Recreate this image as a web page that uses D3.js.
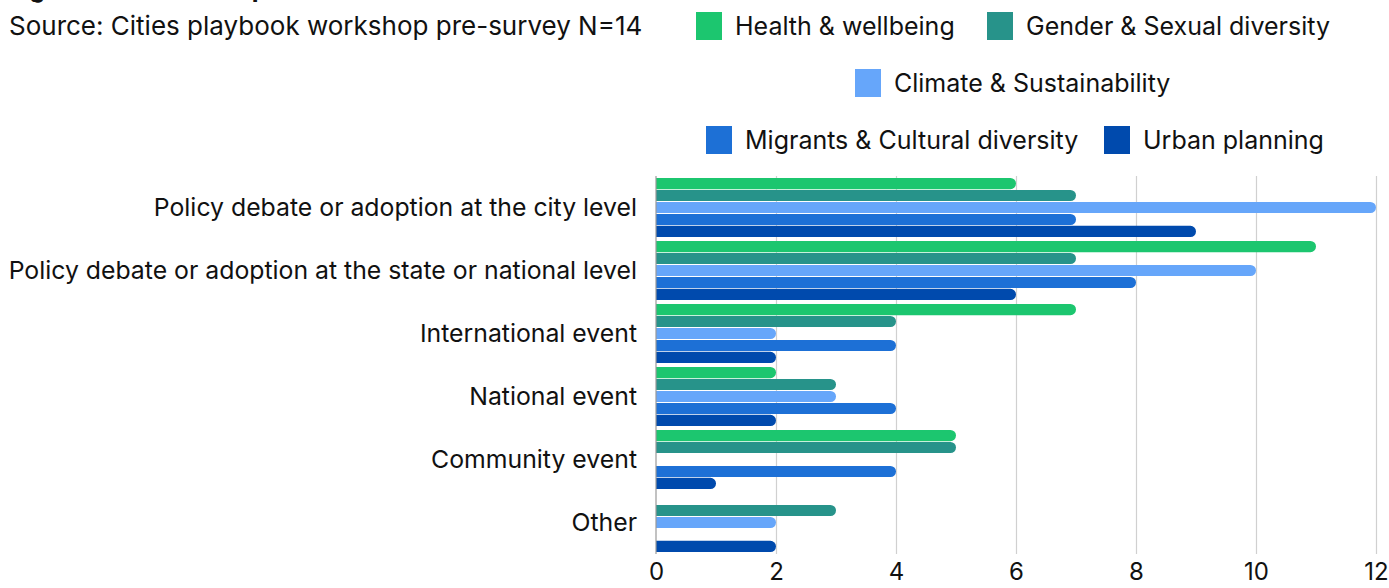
<!DOCTYPE html>
<html><head><meta charset="utf-8">
<script src="https://cdn.jsdelivr.net/npm/d3@7"></script>
<style>body{margin:0;background:#fff}svg{display:block}text{font-family:Inter,"Noto Sans",sans-serif;fill:#111}</style>
</head><body><svg id="c" width="1389" height="588"></svg>
<script>
const categories = ["Policy debate or adoption at the city level","Policy debate or adoption at the state or national level","International event","National event","Community event","Other"];
const seriesNames = ["Health & wellbeing","Gender & Sexual diversity","Climate & Sustainability","Migrants & Cultural diversity","Urban planning"];
const health = [6,11,7,2,5,0];
const gender = [7,7,4,3,5,3];
const climate = [12,10,2,3,0,2];
const migrants = [7,8,4,4,4,0];
const urban = [9,6,2,2,1,2];
const colors = ["#1cc66f","#27938a","#66a6fa","#1d70d6","#004aad"];
const xTicks = [0,2,4,6,8,10,12];
const title = "Figure 4: Desired impact";
const subtitle = "Source: Cities playbook workshop pre-survey N=14";

const values = [health, gender, climate, migrants, urban];
const svg = d3.select("#c");
const x = d3.scaleLinear().domain([0,12]).range([656,1376]);
const y = d3.scaleBand().domain(categories).range([176,554]).paddingInner(0.05).paddingOuter(0.025);
const y2 = d3.scaleBand().domain(seriesNames).range([0,y.bandwidth()]);

// gridlines
svg.append("g").selectAll("line").data(xTicks.slice(1)).join("line")
  .attr("x1",d=>x(d)+0.5).attr("x2",d=>x(d)+0.5).attr("y1",176).attr("y2",554)
  .attr("stroke","#d0d0d0").attr("stroke-width",1.2);

// bars
const g = svg.append("g");
seriesNames.forEach((s,si)=>{
  categories.forEach((c,ci)=>{
    const v = values[si][ci];
    if(!v) return;
    const x0 = x(0), x1 = x(v), y0 = y(c)+y2(s)+0.4, h = y2.bandwidth()-0.8, r = h/2;
    const p = d3.path();
    p.moveTo(x0,y0); p.lineTo(x1-r,y0);
    p.arc(x1-r,y0+r,r,-Math.PI/2,Math.PI/2);
    p.lineTo(x0,y0+h); p.closePath();
    g.append("path").attr("d",p.toString()).attr("fill",colors[si]);
  });
});

// axis line
svg.append("line").attr("x1",x(0)).attr("x2",x(0)).attr("y1",176).attr("y2",554).attr("stroke","#999").attr("stroke-width",1.2);

// category labels
svg.append("g").selectAll("text").data(categories).join("text")
  .attr("x",637).attr("y",d=>y(d)+y.bandwidth()/2).attr("dy","0.35em")
  .attr("text-anchor","end").attr("font-size",24.8).text(d=>d);

// x tick labels
const xAxis = d3.axisBottom(x).tickValues(xTicks).tickSize(0).tickPadding(0);
const ax = svg.append("g").attr("transform","translate(0,563)").call(xAxis);
ax.select(".domain").remove();
ax.selectAll("text").attr("font-size",24).attr("dy","0.71em").attr("y",0).style("font-family","Inter, sans-serif").attr("fill","#111");

// title (clipped at top, as in the source image) and subtitle
svg.append("text").attr("x",8).attr("y",-3).attr("font-size",25).attr("font-weight","bold").text(title);
svg.append("text").attr("x",9).attr("y",35).attr("font-size",26).text(subtitle);

// legend
const legendPos = [[696,26],[987,26],[855,83],[706,140],[1104,140]];
seriesNames.forEach((s,i)=>{
  const [lx,ly] = legendPos[i];
  svg.append("rect").attr("x",lx).attr("y",ly-14).attr("width",26).attr("height",28).attr("fill",colors[i]);
  svg.append("text").attr("x",lx+39).attr("y",ly).attr("dy","0.35em").attr("font-size",25).text(s);
});
</script></body></html>
